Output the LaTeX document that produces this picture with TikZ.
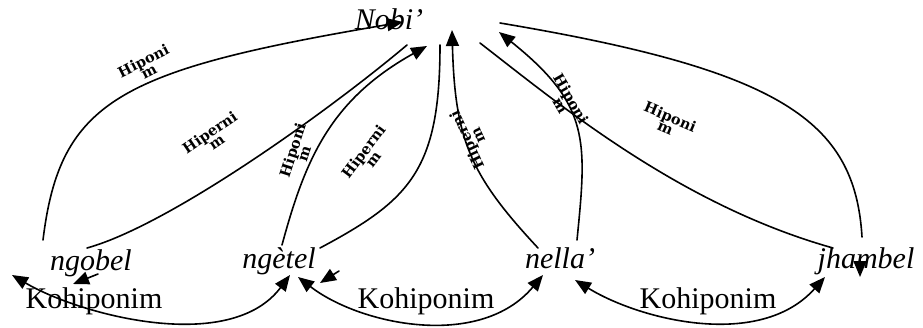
\documentclass[tikz,border=0pt]{standalone}
\usepackage{fontspec}
\setmainfont{Liberation Serif}
\newfontfamily\relfont{DejaVu Serif}
\usetikzlibrary{arrows.meta}

\begin{document}
\begin{tikzpicture}[x=1pt,y=1pt,
  term/.style={font=\fontsize{30}{34}\selectfont\itshape, inner sep=0pt, anchor=base},
  koh/.style={font=\fontsize{30}{34}\selectfont, inner sep=0pt, anchor=base},
  rel/.style={font=\relfont\bfseries\fontsize{14.5}{12}\selectfont, align=center, inner sep=0pt},
  link/.style={line width=1.6pt, line cap=round},
  tip/.style={link, -{Triangle[length=16pt,width=13pt]}},
  tips/.style={link, {Triangle[length=16pt,width=13pt]}-{Triangle[length=16pt,width=13pt]}}
]
\useasboundingbox (0,0) rectangle (923,327);

% words
\node[term] (nobi)    at (389,297) {Nobi’};
\node[term] (ngobel)  at (91,57)   {ngobel};
\node[term] (ngetel)  at (279,59)  {ngètel};
\node[term] (nella)   at (560,59)  {nella’};
\node[term] (jhambel) at (866,59)  {jhambel};

\node[koh] (koh1) at (94,19)  {Kohiponim};
\node[koh] (koh2) at (426,19) {Kohiponim};
\node[koh] (koh3) at (708,19) {Kohiponim};

% connector ends
\coordinate (ngobelA) at (43,87);
\coordinate (ngobelB) at (87,79);
\coordinate (ngobelT0) at (98,53);
\coordinate (ngobelT) at (73,43);
\coordinate (ngetelC) at (282,82);
\coordinate (ngetelD) at (320,79);
\coordinate (ngetelT0) at (339,56);
\coordinate (ngetelT) at (320,44);
\coordinate (nellaE) at (538,79);
\coordinate (nellaF) at (577,87);
\coordinate (jhambelG) at (833,79);
\coordinate (jhambelH) at (862,90);
\coordinate (jhambelT0) at (860,68);
\coordinate (jhambelT) at (860,50);
\coordinate (nobiA) at (403,305);
\coordinate (nobiB) at (407,282);
\coordinate (nobiC) at (427,281);
\coordinate (nobiD) at (440,282);
\coordinate (nobiE) at (452,297);
\coordinate (nobiF) at (499,295);
\coordinate (nobiG) at (480,284);
\coordinate (nobiH) at (500,304);
\coordinate (k1a) at (12,52);
\coordinate (k1b) at (290,52);
\coordinate (k2a) at (298,50);
\coordinate (k2b) at (543,52);
\coordinate (k3a) at (575,47);
\coordinate (k3b) at (825,50);

% hyponym / hypernym links
\draw[tip]  (ngobelA) .. controls (60,227) and (120,257) .. (nobiA);
\draw[link] (nobiB) .. controls (330,217) and (170,102) .. (ngobelB);
\draw[tip]  (ngobelT0) -- (ngobelT);
\draw[tip]  (ngetelC) .. controls (305,167) and (330,227) .. (nobiC);
\draw[link] (nobiD) .. controls (440,157) and (410,127) .. (ngetelD);
\draw[tip]  (ngetelT0) -- (ngetelT);
\draw[tip]  (nellaE) .. controls (470,152) and (455,187) .. (nobiE);
\draw[tip]  (nellaF) .. controls (587,187) and (590,222) .. (nobiF);
\draw[link] (nobiG) .. controls (560,222) and (680,122) .. (jhambelG);
\draw[link] (nobiH) .. controls (780,257) and (855,207) .. (jhambelH);
\draw[tip]  (jhambelT0) -- (jhambelT);

% co-hyponym links
\draw[tips] (k1a) .. controls (80,12) and (230,-28) .. (k1b);
\draw[tips] (k2a) .. controls (360,2) and (480,-23) .. (k2b);
\draw[tips] (k3a) .. controls (640,7) and (760,-23) .. (k3b);

% relation labels
\node[rel, rotate=27]  (r1) at (146,261) {Hiponi\\m};
\node[rel, rotate=34]  (r2) at (213,190) {Hiperni\\m};
\node[rel, rotate=72]  (r3) at (298,175) {Hiponi\\m};
\node[rel, rotate=53]  (r4) at (368,172) {Hiperni\\m};
\node[rel, rotate=115] (r5) at (472,189) {Hiperni\\m};
\node[rel, rotate=-60] (r6) at (566,225) {Hiponi\\m};
\node[rel, rotate=-23] (r7) at (668,205) {Hiponi\\m};
\end{tikzpicture}
\end{document}
